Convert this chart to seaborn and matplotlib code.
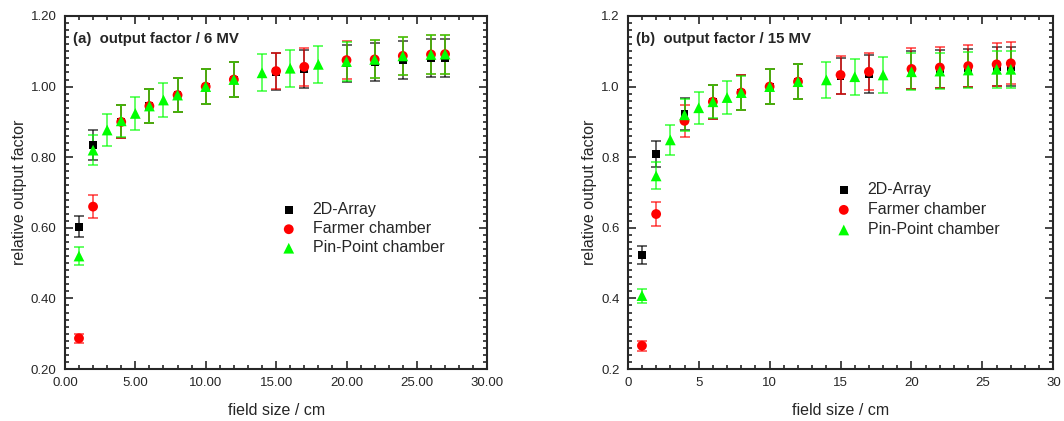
import numpy as np
import pandas as pd
import matplotlib
matplotlib.use("Agg")
import matplotlib.pyplot as plt
from matplotlib.ticker import MultipleLocator, FormatStrFormatter
import seaborn as sns

# field sizes (cm)
x_array = [1, 2, 4, 6, 8, 10, 12, 15, 17, 20, 22, 24, 26, 27]
x_farmer = [1, 2, 4, 6, 8, 10, 12, 15, 17, 20, 22, 24, 26, 27]
x_pin = [1, 2, 3, 4, 5, 6, 7, 8, 10, 12, 14, 16, 18, 20, 22, 24, 26, 27]

# 6 MV
of6_array = [0.603, 0.835, 0.900, 0.945, 0.976, 1.000, 1.020, 1.042, 1.050, 1.066, 1.070, 1.075, 1.080, 1.080]
err6_array = [0.030, 0.042, 0.047, 0.047, 0.048, 0.050, 0.050, 0.052, 0.053, 0.053, 0.054, 0.054, 0.054, 0.054]
of6_farmer = [0.287, 0.660, 0.900, 0.945, 0.976, 1.000, 1.020, 1.044, 1.056, 1.075, 1.077, 1.087, 1.091, 1.092]
err6_farmer = [0.013, 0.033, 0.047, 0.047, 0.048, 0.050, 0.050, 0.052, 0.053, 0.054, 0.054, 0.054, 0.055, 0.055]
of6_pin = [0.520, 0.820, 0.877, 0.903, 0.924, 0.945, 0.962, 0.976, 1.000, 1.020, 1.039, 1.052, 1.063,
           1.071, 1.077, 1.087, 1.091, 1.092]
err6_pin = [0.026, 0.042, 0.044, 0.046, 0.046, 0.047, 0.047, 0.048, 0.050, 0.050, 0.052, 0.053, 0.053,
            0.054, 0.054, 0.054, 0.055, 0.055]

# 15 MV
of15_array = [0.523, 0.809, 0.922, 0.957, 0.983, 1.000, 1.014, 1.030, 1.036, 1.047, 1.050, 1.052, 1.056, 1.056]
err15_array = [0.026, 0.038, 0.045, 0.048, 0.049, 0.050, 0.050, 0.052, 0.053, 0.053, 0.053, 0.054, 0.055, 0.055]
of15_farmer = [0.266, 0.639, 0.903, 0.957, 0.983, 1.000, 1.014, 1.033, 1.042, 1.050, 1.054, 1.058, 1.063, 1.066]
err15_farmer = [0.014, 0.033, 0.045, 0.048, 0.049, 0.050, 0.050, 0.053, 0.053, 0.058, 0.058, 0.060, 0.060, 0.060]
of15_pin = [0.408, 0.747, 0.849, 0.920, 0.940, 0.957, 0.969, 0.983, 1.000, 1.014, 1.019, 1.028, 1.033,
            1.042, 1.044, 1.047, 1.049, 1.049]
err15_pin = [0.020, 0.038, 0.042, 0.045, 0.046, 0.047, 0.047, 0.048, 0.050, 0.050, 0.050, 0.051, 0.052,
             0.052, 0.052, 0.052, 0.052, 0.052]

labels = ["2D-Array", "Farmer chamber", "Pin-Point chamber"]
colors = ["#000000", "#ff0000", "#00ff00"]
markers = ["s", "o", "^"]
msizes = [32, 50, 60]

sns.set_style("ticks")
plt.rcParams["font.family"] = ["Liberation Sans", "DejaVu Sans"]

fig = plt.figure(figsize=(10.64, 4.21), dpi=100)
ax1 = fig.add_axes([0.061, 0.1235, 0.397, 0.8385])
ax2 = fig.add_axes([0.590, 0.1235, 0.400, 0.8385])


def draw_panel(ax, series, title, xfmt, yfmt, leg_pos, leg_space):
    for (xs, ys, es), lab, col, mk, ms in zip(series, labels, colors, markers, msizes):
        df = pd.DataFrame({"field": xs, "of": ys, "err": es})
        ax.errorbar(df["field"], df["of"], yerr=df["err"], fmt="none", ecolor=col,
                    alpha=0.65, elinewidth=1.3, capsize=3.5, capthick=1.3, zorder=2)
        sns.scatterplot(data=df, x="field", y="of", ax=ax, color=col, marker=mk, s=ms,
                        edgecolor="none", label=lab, zorder=3)
    ax.set_xlim(0, 30)
    ax.set_ylim(0.2, 1.2)
    ax.xaxis.set_major_locator(MultipleLocator(5))
    ax.xaxis.set_minor_locator(MultipleLocator(1))
    ax.yaxis.set_major_locator(MultipleLocator(0.2))
    ax.yaxis.set_minor_locator(MultipleLocator(0.02))
    ax.xaxis.set_major_formatter(FormatStrFormatter(xfmt))
    ax.yaxis.set_major_formatter(FormatStrFormatter(yfmt))
    ax.tick_params(which="both", direction="in", top=True, right=True, width=1.2, labelsize=9.5)
    ax.tick_params(which="major", length=6, pad=6)
    ax.tick_params(which="minor", length=3)
    for sp in ax.spines.values():
        sp.set_linewidth(1.5)
        sp.set_visible(True)
    ax.set_xlabel("field size / cm", fontsize=11.5, labelpad=10)
    ax.set_ylabel("relative output factor", fontsize=11.5, labelpad=3)
    ax.text(0.02, 0.955, title, transform=ax.transAxes, fontsize=10.8, fontweight="bold",
            va="top", ha="left")
    ax.legend(loc="upper left", bbox_to_anchor=leg_pos, frameon=False, fontsize=11.5,
              handletextpad=0.5, labelspacing=leg_space, borderaxespad=0)


draw_panel(ax1, [(x_array, of6_array, err6_array), (x_farmer, of6_farmer, err6_farmer),
                 (x_pin, of6_pin, err6_pin)],
           "(a)  output factor / 6 MV", "%.2f", "%.2f", (0.477, 0.49), 0.25)
draw_panel(ax2, [(x_array, of15_array, err15_array), (x_farmer, of15_farmer, err15_farmer),
                 (x_pin, of15_pin, err15_pin)],
           "(b)  output factor / 15 MV", "%d", "%.1f", (0.455, 0.548), 0.32)

fig.savefig("out.png", dpi=100)
